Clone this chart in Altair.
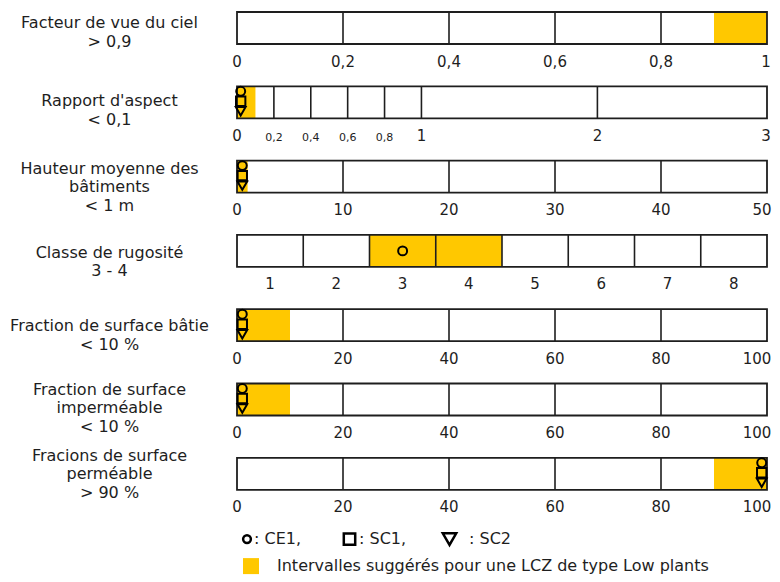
import altair as alt
import pandas as pd

# ---------------- data ----------------
row_titles = [
    ["Facteur de vue du ciel", "> 0,9"],
    ["Rapport d'aspect", "< 0,1"],
    ["Hauteur moyenne des", "bâtiments", "< 1 m"],
    ["Classe de rugosité", "3 - 4"],
    ["Fraction de surface bâtie", "< 10 %"],
    ["Fraction de surface", "imperméable", "< 10 %"],
    ["Fracions de surface", "perméable", "> 90 %"],
]
domains = [(0, 1), (0, 3), (0, 50), (0.5, 8.5), (0, 100), (0, 100), (0, 100)]
grid_lines = [
    [0.2, 0.4, 0.6, 0.8],
    [0.2, 0.4, 0.6, 0.8, 1, 2],
    [10, 20, 30, 40],
    [1.5, 2.5, 3.5, 4.5, 5.5, 6.5, 7.5],
    [20, 40, 60, 80],
    [20, 40, 60, 80],
    [20, 40, 60, 80],
]
tick_values = [
    [0, 0.2, 0.4, 0.6, 0.8],
    [0, 1, 2],
    [0, 10, 20, 30, 40],
    [1, 2, 3, 4, 5, 6, 7, 8],
    [0, 20, 40, 60, 80],
    [0, 20, 40, 60, 80],
    [0, 20, 40, 60, 80],
]
tick_labels = [
    ["0", "0,2", "0,4", "0,6", "0,8"],
    ["0", "1", "2"],
    ["0", "10", "20", "30", "40"],
    ["1", "2", "3", "4", "5", "6", "7", "8"],
    ["0", "20", "40", "60", "80"],
    ["0", "20", "40", "60", "80"],
    ["0", "20", "40", "60", "80"],
]
# last label of each row (at the right end of the bar)
last_tick_values = [1, 3, 50, None, 100, 100, 100]
last_tick_labels = ["1", "3", "50", None, "100", "100", "100"]
small_tick_values = [0.2, 0.4, 0.6, 0.8]          # rapport d'aspect
small_tick_labels = ["0,2", "0,4", "0,6", "0,8"]
aspect_breaks = [0, 1, 2, 3]                       # non-uniform axis of row 2
aspect_frac = [0, 0.348, 0.68, 1]

intervals = [(0.9, 1), (0, 0.1), (0, 1), (2.5, 4.5), (0, 10), (0, 10), (90, 100)]

series = ["CE1", "SC1", "SC2"]
ce1 = [None, 0.02, 0.5, 3, 1, 1, 99]
sc1 = [None, 0.02, 0.5, None, 1, 1, 99]
sc2 = [None, 0.02, 0.5, None, 1, 1, 99]

legend_text = "Intervalles suggérés pour une LCZ de type Low plants"

# ---------------- style ----------------
W, H = 530, 32
YELLOW = "#FFC800"
INK = "#1e1e1e"
FONT = "DejaVu Sans"
LABEL_SIZE = 16
TICK_SIZE = 15
first_line_y = [11, 15, 8, 18, 17, 6, -2]
last_dx = {"1": -1, "3": -1, "50": -5, "100": -10}


def row_chart(i):
    lo, hi = domains[i]
    if i == 1:
        xscale = alt.Scale(domain=aspect_breaks, range=[f * W for f in aspect_frac])
    else:
        xscale = alt.Scale(domain=[lo, hi], nice=False, zero=False)

    def X(f):
        return alt.X(f, type="quantitative", scale=xscale, axis=None)

    frame = pd.DataFrame({"lo": [lo], "hi": [hi]})
    layers = []
    layers.append(alt.Chart(frame).mark_rect(fill="white").encode(x=X("lo"), x2="hi"))
    band = pd.DataFrame({"a": [intervals[i][0]], "b": [intervals[i][1]]})
    layers.append(alt.Chart(band).mark_rect(fill=YELLOW).encode(x=X("a"), x2="b"))
    layers.append(
        alt.Chart(pd.DataFrame({"g": grid_lines[i]}))
        .mark_rule(color=INK, strokeWidth=1.6)
        .encode(x=X("g"))
    )
    layers.append(
        alt.Chart(frame)
        .mark_rect(fill="white", fillOpacity=0, stroke=INK, strokeWidth=1.8)
        .encode(x=X("lo"), x2="hi")
    )

    pts = []
    for s, arr in zip(series, [ce1, sc1, sc2]):
        if arr[i] is not None:
            pts.append({"series": s, "v": arr[i]})
    if pts:
        for k, p in enumerate(pts):
            p["slot"] = k if len(pts) > 1 else 1.1
        layers.append(
            alt.Chart(pd.DataFrame(pts))
            .mark_point(filled=False, color="black", strokeWidth=2, opacity=1)
            .encode(
                x=X("v"),
                y=alt.Y("slot:Q", scale=alt.Scale(domain=[-0.5, 2.7], reverse=True), axis=None),
                shape=alt.Shape("series:N", scale=alt.Scale(domain=series, range=["circle", "square", "triangle-down"]), legend=None),
                size=alt.Size("series:N", scale=alt.Scale(domain=series, range=[80, 95, 210]), legend=None),
            )
        )

    tdf = pd.DataFrame({"t": tick_values[i], "lab": tick_labels[i]})
    layers.append(
        alt.Chart(tdf)
        .mark_text(font=FONT, fontSize=TICK_SIZE, color=INK, baseline="middle", align="center")
        .encode(x=X("t"), y=alt.value(H + 17.5), text="lab:N")
    )
    if last_tick_values[i] is not None:
        lab = last_tick_labels[i]
        ldf = pd.DataFrame({"t": [last_tick_values[i]], "lab": [lab]})
        layers.append(
            alt.Chart(ldf)
            .mark_text(font=FONT, fontSize=TICK_SIZE, color=INK, baseline="middle", align="center", dx=last_dx[lab])
            .encode(x=X("t"), y=alt.value(H + 17.5), text="lab:N")
        )
    if i == 1:
        sdf = pd.DataFrame({"t": small_tick_values, "lab": small_tick_labels})
        layers.append(
            alt.Chart(sdf)
            .mark_text(font=FONT, fontSize=11, color=INK, baseline="middle", align="center")
            .encode(x=X("t"), y=alt.value(H + 20), text="lab:N")
        )

    layers.append(
        alt.Chart(alt.Data(values=[{}]))
        .mark_text(font=FONT, fontSize=LABEL_SIZE, color=INK, baseline="middle", align="center", lineBreak="\n", lineHeight=18.5)
        .encode(x=alt.value(-127.5), y=alt.value(first_line_y[i]), text=alt.value("\n".join(row_titles[i])))
    )
    return alt.layer(*layers).properties(width=W, height=H)


def legend_chart():
    one = alt.Data(values=[{}])
    L = []
    L.append(alt.Chart(one).mark_point(shape="circle", size=60, filled=False, color="black", strokeWidth=2.5, opacity=1)
             .encode(x=alt.value(10), y=alt.value(7)))
    L.append(alt.Chart(one).mark_point(shape="square", size=130, filled=False, color="black", strokeWidth=2.5, opacity=1)
             .encode(x=alt.value(112.5), y=alt.value(7)))
    L.append(alt.Chart(one).mark_point(shape="triangle-down", size=180, filled=False, color="black", strokeWidth=2.5, opacity=1)
             .encode(x=alt.value(212.5), y=alt.value(7)))
    for xx, s, tail in [(17, "CE1", ","), (122, "SC1", ","), (232, "SC2", "")]:
        L.append(alt.Chart(one).mark_text(font=FONT, fontSize=LABEL_SIZE, color=INK, align="left", baseline="middle")
                 .encode(x=alt.value(xx), y=alt.value(7), text=alt.value(": " + s + tail)))
    L.append(alt.Chart(one).mark_square(size=256, color=YELLOW, opacity=1)
             .encode(x=alt.value(14), y=alt.value(34)))
    L.append(alt.Chart(one).mark_text(font=FONT, fontSize=LABEL_SIZE, color=INK, align="left", baseline="middle")
             .encode(x=alt.value(40), y=alt.value(34), text=alt.value(legend_text)))
    return alt.layer(*L).properties(width=W, height=42)


chart = (
    alt.vconcat(*[row_chart(i) for i in range(len(row_titles))], legend_chart(), spacing=42.3, bounds="flush")
    .properties(padding={"left": 2, "top": 3, "right": 0, "bottom": 0}, background="white")
    .configure_view(stroke=None)
)

chart.save("out.html", embed_options={"renderer": "svg", "actions": False})
